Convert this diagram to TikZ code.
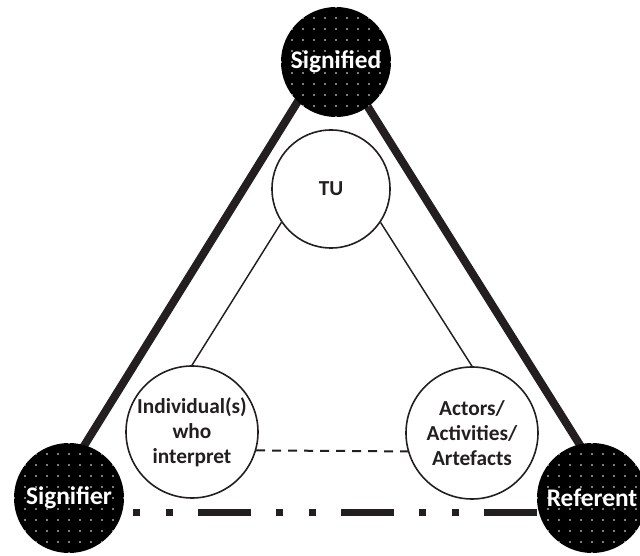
\documentclass[tikz,border=0pt]{standalone}
\usepackage{fontspec}
\setmainfont{Carlito}
\definecolor{strfsq}{rgb}{0.13725,0.12157,0.12549}

\begin{document}
\begin{tikzpicture}[line cap=butt,line join=round,x=0.75pt,y=-0.75pt,
  pole/.style={circle,fill=black,text=white,inner sep=0pt,minimum size=82.5pt,
    font=\bfseries\fontsize{19}{22}\selectfont},
  role/.style={circle,draw=strfsq,line width=1.2pt,fill=white,inner sep=0pt,
    minimum size=99pt,align=center,text=strfsq,
    font=\bfseries\fontsize{16}{18.75}\selectfont},
  tie/.style={color=strfsq,line width=1.1pt}]
\useasboundingbox (0,0) rectangle (640,556);
% corners of the outer triangle
\coordinate (tT) at (331,48);
\coordinate (tL) at (43,512);
\coordinate (tR) at (622,512);
\draw [color=strfsq,line width=6pt] (tL)-- (tT)-- (tR);
\draw [color=strfsq,line width=5.25pt,
  dash pattern=on 39.75pt off 18.75pt on 5.25pt off 19.5pt on 5.25pt off 18.75pt,
  dash phase=98.25pt] (tL)-- (tR);
% poles
\node[pole] (sgd) at (336,62) {Signified};
\node[pole] (sgr) at (69,498) {Signifier};
\node[pole] (ref) at (592,498) {Referent};
\foreach \n in {sgd,sgr,ref}{
  \begin{scope}
  \clip (\n.center) circle (41.25pt);
  \foreach \i in {-5,...,5}
    \foreach \j in {-5,...,5}
      \fill[white] ([shift={(\i*11,\j*11)}]\n.center) circle (0.6pt);
  \end{scope}
}
% inner circles
\node[role,minimum size=88.5pt] (tu) at (331,189) {TU};
\node[role] (ind) at (192,432) {Individual(s)\\who\\interpret};
\node[role] (act) at (472,433) {Actors/\\Activities/\\Artefacts};
\draw [tie] (tu.-146)-- (ind.north);
\draw [tie] (tu.-34)-- (act.north);
\draw [tie,line width=1.5pt,dash pattern=on 6.75pt off 5.25pt] (ind.-16)-- (act.196);
\end{tikzpicture}
\end{document}
